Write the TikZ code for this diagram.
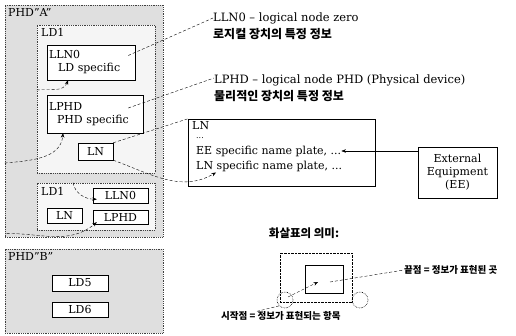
\documentclass[tikz,border=0pt]{standalone}
\usepackage{fontspec}
\setmainfont{DejaVu Serif}
\newfontfamily\kor{Noto Sans CJK KR}
\usetikzlibrary{arrows.meta, positioning}

\tikzset{
  phd/.style={draw=black!75, densely dotted, thick, fill=gray!25, inner sep=0pt},
  ldbox/.style={draw=black!75, densely dotted, thick, fill=gray!8, inner sep=0pt},
  lnbox/.style={draw, fill=white, inner sep=2pt, align=left},
  tag/.style={anchor=north west, inner sep=0pt},
  note/.style={anchor=west, inner sep=0pt, align=left, font=\fontsize{11.5}{17}\selectfont},
  leader/.style={densely dashed, thin},
  arr/.style={densely dashed, thin, ->},
  ring/.style={draw, densely dotted, semithick, circle, minimum size=16pt, inner sep=0pt},
  hangul/.style={anchor=west, inner sep=0pt, font=\kor\bfseries\fontsize{9.5}{11}\selectfont}
}

\begin{document}
\begin{tikzpicture}[x=1pt, y=-1pt, font=\fontsize{11}{13}\selectfont,
    >={Stealth[length=4.5pt, width=3.5pt]}]
    \useasboundingbox (0,0) rectangle (516,336);

    % PHD "A"
    \node[phd, minimum width=158pt, minimum height=232pt] (phdA) at (84,121) {};
    \node[tag] (phdAtag) at (8,8) {PHD\char34 A\char34};
    \node[ldbox, minimum width=118pt, minimum height=148pt] (ldA) at (96,99) {};
    \node[tag] (ldAtag) at (41,28) {LD1};
    \node[lnbox, minimum width=88pt, minimum height=35pt, text width=84pt] (llnA) at (91,62.5)
        {LLN0\\\hspace*{9pt}LD specific};
    \node[lnbox, minimum width=96pt, minimum height=38pt, text width=92pt] (lphdA) at (95,114)
        {LPHD\\\hspace*{8pt}PHD specific};
    \node[lnbox, minimum width=35pt, minimum height=17pt, align=center] (lnA) at (95.5,151.5) {LN};

    \node[ldbox, fill=gray!6, minimum width=118pt, minimum height=47pt] (ldB) at (96,206.5) {};
    \node[tag] (ldBtag) at (41,187) {LD1};
    \node[lnbox, minimum width=55pt, minimum height=15pt, inner sep=0pt, align=center] (llnB) at (120.5,195.5) {LLN0};
    \node[lnbox, minimum width=35pt, minimum height=15pt, inner sep=0pt, align=center] (lnB) at (64.5,215.5) {LN};
    \node[lnbox, minimum width=55pt, minimum height=14pt, inner sep=0pt, align=center] (lphdB) at (120.5,217) {LPHD};

    % PHD "B"
    \node[phd, minimum width=158pt, minimum height=84pt] (phdB) at (84,291) {};
    \node[tag] (phdBtag) at (8,252) {PHD\char34 B\char34};
    \node[lnbox, minimum width=56pt, minimum height=16pt, inner sep=0pt, align=center] (ld5) at (80,283) {LD5};
    \node[lnbox, minimum width=56pt, minimum height=15pt, inner sep=0pt, align=center] (ld6) at (80,309.5) {LD6};

    % arrows inside PHD "A"
    \draw[arr] ([yshift=9pt]ldA.west) to[out=5, in=-110] ([xshift=-23pt]llnA.south);
    \draw[arr] ([yshift=-42pt]phdA.west) to[out=5, in=-95] ([xshift=-32pt]lphdA.south);
    \draw[arr] ([xshift=-23pt]ldB.north) to[out=-80, in=180] ([xshift=4pt, yshift=4pt]llnB.south west);
    \draw[arr] ([xshift=2pt, yshift=4pt]phdA.south west) to[out=0, in=-140] ([xshift=4pt, yshift=2pt]lphdB.south west);

    % notes
    \node[note] (llnTxt) at (213,26)
        {LLN0 – logical node zero\\{\kor\bfseries\fontsize{12}{17}\selectfont 로지컬 장치의 특정 정보}};
    \node[note] (lphdTxt) at (214,88)
        {LPHD – logical node PHD (Physical device)\\{\kor\bfseries\fontsize{12}{17}\selectfont 물리적인 장치의 특정 정보}};
    \draw[leader] ([xshift=-7pt, yshift=7pt]llnA.east) -- ([yshift=8pt]llnTxt.west);
    \draw[leader] ([xshift=-15pt, yshift=6pt]lphdA.east) -- ([yshift=10pt]lphdTxt.west);

    % LN in detail
    \node[lnbox, minimum width=187pt, minimum height=67pt] (lnBig) at (281.5,152.5) {};
    \node[tag] (lnBigTag) at (192,121) {LN};
    \node[anchor=base west, inner sep=0pt, font=\fontsize{8}{8}\selectfont] (lnDots) at (196,139) {...};
    \node[anchor=west, inner sep=0pt] (eeSpec) at (196,151) {EE specific name plate, ...};
    \node[anchor=west, inner sep=0pt] (lnSpec) at (196,166) {LN specific name plate, ...};
    \node[lnbox, align=center, minimum width=79pt, minimum height=51pt] (ee) at (457.5,172.5)
        {External\\Equipment\\(EE)};
    \draw[->] (ee.west |- eeSpec.east) -- (eeSpec.east);
    \draw[leader] (lnA.north east) -- (lnBig.north west);
    \draw[arr] (lnA.south east) to[out=-20, in=-150] ([xshift=20pt, yshift=-1pt]lnSpec.south west);

    % legend
    \node[inner sep=0pt, font=\kor\bfseries\fontsize{11.5}{13}\selectfont] (legTitle) at (304,233) {화살표의 의미:};
    \node[draw, densely dotted, minimum width=72pt, minimum height=49pt] (legOuter) at (316,277.5) {};
    \node[draw, minimum width=38pt, minimum height=28pt] (legInner) at (324,279) {};
    \node[ring] (legStart) at (285,300) {};
    \node[ring] (legEnd) at (360,300) {};
    \draw[arr] ([xshift=3pt, yshift=3pt]legStart.center) -- ([xshift=-6pt, yshift=-3pt]legInner.center);
    \node[hangul] (legEndTxt) at (404,270) {끝점 = 정보가 표현된 곳};
    \node[hangul] (legStartTxt) at (221,316) {시작점 = 정보가 표현되는 항목};
    \draw[leader] ([xshift=6pt, yshift=-3pt]legInner.center) -- (legEndTxt.west);
    \draw[leader] (legStart.south west) -- ([xshift=36pt]legStartTxt.north west);
\end{tikzpicture}
\end{document}
